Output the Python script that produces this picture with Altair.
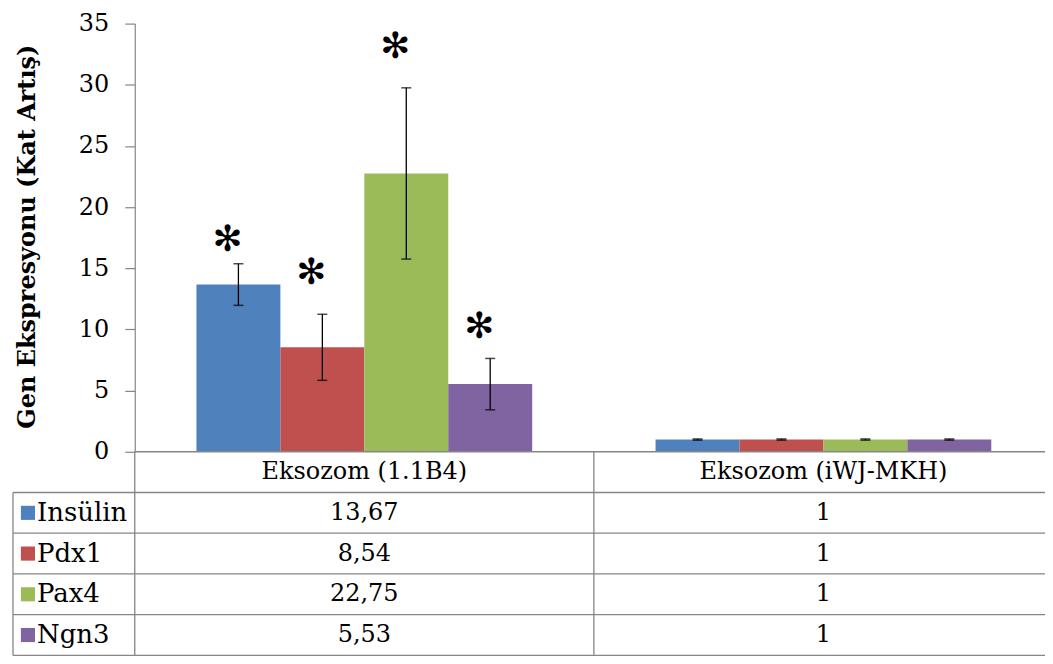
import altair as alt
import pandas as pd

categories = ["Eksozom (1.1B4)", "Eksozom (iWJ-MKH)"]
genes = ["Insülin", "Pdx1", "Pax4", "Ngn3"]
colors = ["#4F81BD", "#C0504D", "#9BBB59", "#8064A2"]

values_1 = [13.67, 8.54, 22.75, 5.53]
values_2 = [1, 1, 1, 1]
err_1 = [1.7, 2.7, 7.0, 2.1]
err_2 = [0.05, 0.05, 0.05, 0.05]
star_y = [17.3, 14.6, 33.1, 10.2]
labels_1 = ["13,67", "8,54", "22,75", "5,53"]
labels_2 = ["1", "1", "1", "1"]
y_ticks = [0, 5, 10, 15, 20, 25, 30, 35]

W = 920
H_BAR = 429
H_TAB = 204
FONT = "DejaVu Serif"
LINE = "#868686"

rows = []
for cat, vals, errs, labs in [(categories[0], values_1, err_1, labels_1),
                              (categories[1], values_2, err_2, labels_2)]:
    for g, v, e, l in zip(genes, vals, errs, labs):
        rows.append({"cat": cat, "gene": g, "value": v, "low": v - e, "high": v + e, "label": l})
df = pd.DataFrame(rows)
stars = pd.DataFrame({"cat": categories[0], "gene": genes, "star": star_y})

x_enc = alt.X("cat:N", sort=categories, axis=None,
              scale=alt.Scale(domain=categories, paddingInner=0, paddingOuter=0))
xo_enc = alt.XOffset("gene:N", sort=genes,
                     scale=alt.Scale(domain=genes, paddingInner=0, paddingOuter=0.735))
y_scale = alt.Scale(domain=[0, 35], nice=False, zero=True)
color_enc = alt.Color("gene:N", scale=alt.Scale(domain=genes, range=colors), legend=None)

bars = alt.Chart(df).mark_bar().encode(
    x=x_enc, xOffset=xo_enc,
    y=alt.Y("value:Q", scale=y_scale,
            axis=alt.Axis(values=y_ticks, grid=False, labelFont=FONT, labelFontSize=24,
                          labelColor="black", tickSize=10, tickColor=LINE, domainColor=LINE,
                          tickWidth=1.2, domainWidth=1.2, labelPadding=16,
                          title="Gen Ekspresyonu (Kat Artış)", titleFont=FONT, titleFontSize=24,
                          titleFontWeight="bold", titleColor="black", titleAngle=-90,
                          titleX=-107, titleY=213, titleAlign="center", titleBaseline="middle")),
    color=color_enc,
)
err_rule = alt.Chart(df).mark_rule(color="black", strokeWidth=1.3).encode(
    x=x_enc, xOffset=xo_enc, y=alt.Y("low:Q", scale=y_scale), y2="high:Q")
cap_low = alt.Chart(df).mark_tick(color="black", thickness=1.5, size=10).encode(
    x=x_enc, xOffset=xo_enc, y=alt.Y("low:Q", scale=y_scale))
cap_high = alt.Chart(df).mark_tick(color="black", thickness=1.5, size=10).encode(
    x=x_enc, xOffset=xo_enc, y=alt.Y("high:Q", scale=y_scale))
star_txt = alt.Chart(stars).mark_text(text="✻", font="DejaVu Sans", fontSize=36, dx=-11,
                                      baseline="middle", color="black").encode(
    x=x_enc, xOffset=xo_enc, y=alt.Y("star:Q", scale=y_scale))

bar_chart = alt.layer(bars, err_rule, cap_low, cap_high, star_txt).properties(width=W, height=H_BAR)

# ---- data table ----
row_keys = ["hdr"] + genes
tab_rows = []
for cat in categories:
    tab_rows.append({"cat": cat, "row": "hdr", "txt": cat})
for _, r in df.iterrows():
    tab_rows.append({"cat": r["cat"], "row": r["gene"], "txt": r["label"]})
tab_df = pd.DataFrame(tab_rows)

row_scale = alt.Scale(domain=row_keys, paddingInner=0, paddingOuter=0)
tx = alt.X("cat:N", sort=categories, axis=None,
           scale=alt.Scale(domain=categories, paddingInner=0, paddingOuter=0))

cell_text = alt.Chart(tab_df).mark_text(font=FONT, fontSize=24, color="black", baseline="middle").encode(
    x=tx, y=alt.Y("row:N", scale=row_scale, axis=None), text="txt:N")

gene_df = pd.DataFrame({"row": genes, "gene": genes})
hline_genes = alt.Chart(gene_df).mark_rule(color=LINE, strokeWidth=1.3).encode(
    y=alt.Y("row:N", scale=row_scale, axis=None, bandPosition=0),
    x=alt.value(-122), x2=alt.value(W))
hline_bottom = alt.Chart(pd.DataFrame({"row": [genes[-1]]})).mark_rule(color=LINE, strokeWidth=1.3).encode(
    y=alt.Y("row:N", scale=row_scale, axis=None, bandPosition=1),
    x=alt.value(-122), x2=alt.value(W))
hline_top = alt.Chart(pd.DataFrame({"row": ["hdr"]})).mark_rule(color=LINE, strokeWidth=1.3).encode(
    y=alt.Y("row:N", scale=row_scale, axis=None, bandPosition=0),
    x=alt.value(0), x2=alt.value(W))
vline_cats = alt.Chart(pd.DataFrame({"cat": categories})).mark_rule(color=LINE, strokeWidth=1.3).encode(
    x=alt.X("cat:N", sort=categories, axis=None, bandPosition=0,
            scale=alt.Scale(domain=categories, paddingInner=0, paddingOuter=0)),
    y=alt.value(0), y2=alt.value(H_TAB))
vline_left = alt.Chart(pd.DataFrame({"row": [genes[0]]})).mark_rule(color=LINE, strokeWidth=1.3).encode(
    x=alt.value(-122),
    y=alt.Y("row:N", scale=row_scale, axis=None, bandPosition=0), y2=alt.value(H_TAB))
leg_sq = alt.Chart(gene_df).mark_square(size=200, opacity=1).encode(
    x=alt.value(-107), y=alt.Y("row:N", scale=row_scale, axis=None), color=color_enc)
leg_txt = alt.Chart(gene_df).mark_text(font=FONT, fontSize=26, color="black", align="left",
                                       baseline="middle").encode(
    x=alt.value(-98), y=alt.Y("row:N", scale=row_scale, axis=None), text="gene:N")

table = alt.layer(hline_top, hline_genes, hline_bottom, vline_cats, vline_left,
                  cell_text, leg_sq, leg_txt).properties(width=W, height=H_TAB)

chart = alt.vconcat(bar_chart, table, spacing=0, bounds="flush").configure_view(
    stroke=None).properties(padding={"left": 4, "top": 3, "right": -9, "bottom": 0},
                            background="white")

chart.save("out.html", embed_options={"renderer": "svg", "actions": False})
